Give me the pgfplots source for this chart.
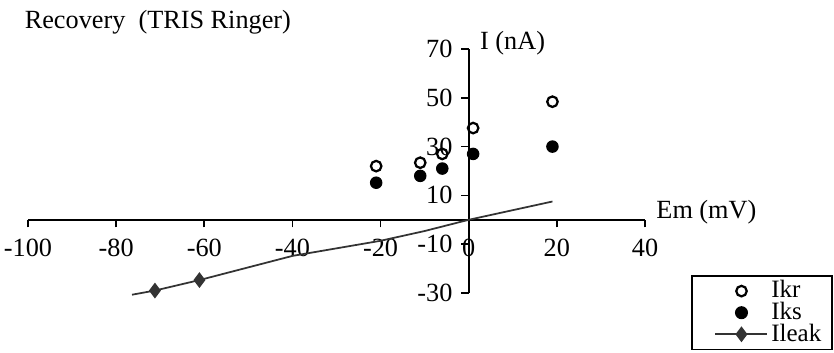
\documentclass[border=0pt]{standalone}
\usepackage{fontspec}
\setmainfont{Liberation Serif}
\usepackage{pgfplots}
\pgfplotsset{compat=1.18}
\definecolor{leakgray}{HTML}{333333}

\begin{document}
\begin{tikzpicture}[x=1pt,y=1pt]
% page frame, 834x353 px at 0.4pt per px
\useasboundingbox (0,0) rectangle (333.6,141.2);
\begin{axis}[
    at={(11.2pt,24pt)}, anchor=south west,
    scale only axis, width=246.8pt, height=97.6pt,
    axis lines=middle, axis line style={-, line width=0.7pt, black},
    xmin=-100, xmax=40, ymin=-30, ymax=70,
    xtick={-100,-80,...,40}, ytick={-30,-10,...,70},
    tick align=outside, major tick length=3pt,
    tick style={line width=0.7pt, black},
    hide obscured x ticks=false, hide obscured y ticks=false,
    /pgf/number format/assume math mode=true,
    tick label style={font=\fontsize{10.5}{12}\selectfont},
    xticklabel style={yshift=-1pt},
    clip=false,
    legend style={at={(1.304,-0.234)}, anchor=south east,
        draw=black, line width=0.6pt, font=\fontsize{10}{10}\selectfont,
        inner xsep=3pt, inner ysep=1pt, row sep=-1.4pt,
        nodes={inner ysep=0.8pt, inner xsep=1.2pt},
        cells={anchor=west}},
    legend image code/.code={
        \path (-6pt,0pt);
        \draw[#1, mark indices={2}] plot coordinates {(0pt,0pt) (10.4pt,0pt) (20.8pt,0pt)};
    },
]
\addplot[only marks, mark=o, mark size=2.1pt, line width=0.9pt, black]
    coordinates {(-21,22) (-11,23.4) (-6,27) (1,37.6) (19,48.4)};
\addlegendentry{Ikr}
\addplot[only marks, mark=*, mark size=2.3pt, black]
    coordinates {(-21,15.2) (-11,18) (-6,21) (1,27) (19,30)};
\addlegendentry{Iks}
\addplot[leakgray, line width=0.7pt, mark=diamond*, mark size=2.6pt,
         mark options={fill=leakgray}, mark indices={2,3}]
    coordinates {(-76.4,-30.7) (-71.2,-29) (-61.1,-24.7) (-40,-14.8) (-20,-8.6) (-10,-4.6) (0,0) (19,7.5)};
\addlegendentry{Ileak}
\node[anchor=west, font=\fontsize{10.5}{12}\selectfont] at (axis cs:0.6,72.5) {I (nA)};
\node[anchor=west, font=\fontsize{10.5}{12}\selectfont] at (axis cs:40.6,3.3) {Em (mV)};
\end{axis}
\node[anchor=west, font=\fontsize{10.5}{12}\selectfont] at (6.4,132.4) {Recovery\ \ (TRIS Ringer)};
\end{tikzpicture}
\end{document}
